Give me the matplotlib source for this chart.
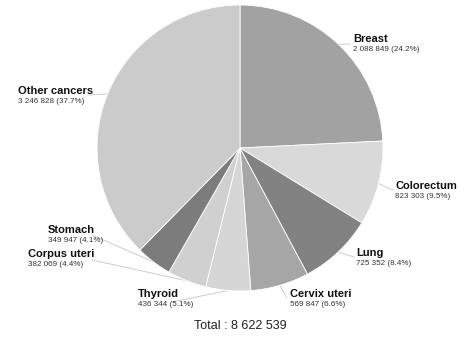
import numpy as np
import matplotlib
matplotlib.use('Agg')
import matplotlib.pyplot as plt

# cancer sites, new cases and shares
sites = ['Breast', 'Colorectum', 'Lung', 'Cervix uteri', 'Thyroid',
         'Corpus uteri', 'Stomach', 'Other cancers']
cases = [2088849, 823303, 725352, 569847, 436344, 382069, 349947, 3246828]
shares = [24.2, 9.5, 8.4, 6.6, 5.1, 4.4, 4.1, 37.7]
total = 8622539

colors = ['#a2a2a2', '#d9d9d9', '#828282', '#a6a6a6', '#d6d6d6',
          '#d0d0d0', '#7c7c7c', '#cbcbcb']

# label anchors in pixel coords (x, y from top)
label_pos = [(353, 38), (395, 185), (356, 252), (290, 293), (138, 293),
             (28, 253), (48, 229), (18, 90)]
# where each leader line leaves the label
line_start = [(350, 42), (393, 188), (354, 255), (287, 296), (172, 300),
              (92, 258), (92, 233), (88, 93)]

W, H = 466, 342
fig = plt.figure(figsize=(W / 100, H / 100), dpi=100)
ax = fig.add_axes([0, 0, 1, 1])

cx, cy, r = 240, H - 148, 143

def fmt(n):
    return f'{n:,}'.replace(',', ' ')

wedges, _ = ax.pie(cases, colors=colors, startangle=90, counterclock=False,
                   center=(cx, cy), radius=r, frame=True,
                   wedgeprops=dict(edgecolor='white', linewidth=0.6))

for w, name, n, s, (lx, ly), (sx, sy) in zip(wedges, sites, cases, shares,
                                              label_pos, line_start):
    ang = np.deg2rad((w.theta1 + w.theta2) / 2)
    ex, ey = cx + r * np.cos(ang), cy + r * np.sin(ang)
    ax.plot([sx, ex], [H - sy - 2, ey], color='#cccccc', lw=0.7, zorder=0)
    ax.text(lx, H - ly - 4, name, fontsize=8, fontweight='bold',
            family='Liberation Sans', color='#111111', va='baseline')
    ax.text(lx, H - ly - 13, f'{fmt(n)} ({s}%)', fontsize=5.8,
            family='Liberation Sans', color='#333333', va='baseline')

ax.text(240, H - 329, f'Total : {fmt(total)}', fontsize=9,
        family='Liberation Sans', color='#222222', ha='center',
        va='baseline')

ax.set_xlim(0, W)
ax.set_ylim(0, H)
ax.set_aspect('auto')
ax.axis('off')
fig.savefig('out.png', dpi=100, facecolor='white')
